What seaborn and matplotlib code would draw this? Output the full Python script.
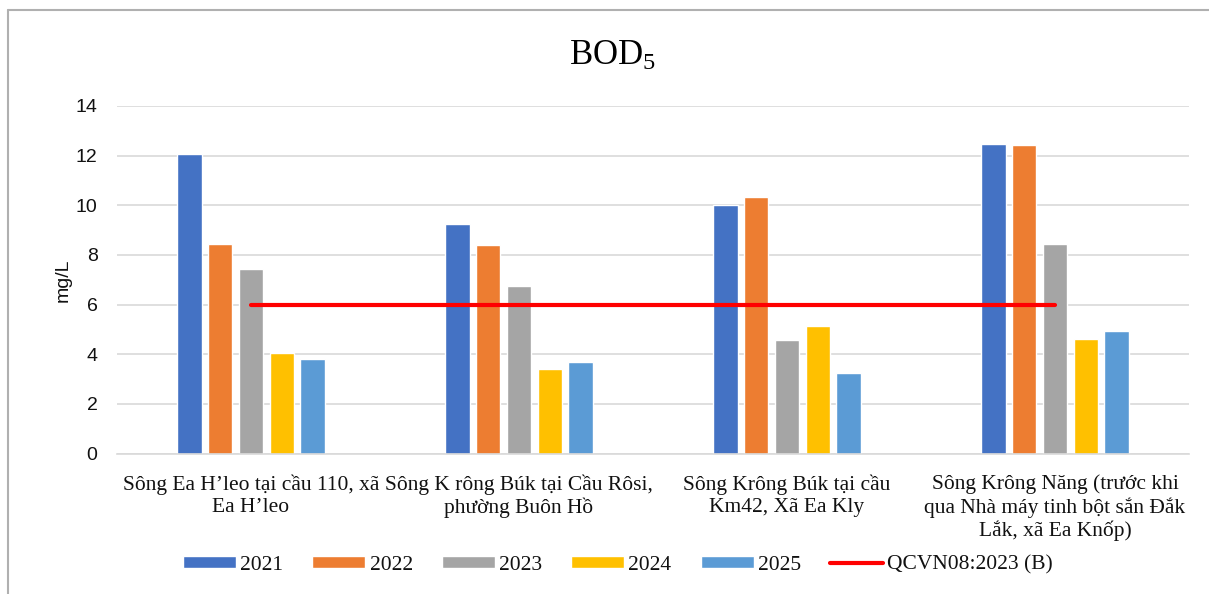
import matplotlib
matplotlib.use("Agg")
import matplotlib.pyplot as plt
from matplotlib.lines import Line2D
import seaborn as sns
import pandas as pd
import numpy as np

# Monitoring stations (category axis)
stations = [
    "Sông Ea H’leo tại cầu 110, xã\nEa H’leo",
    "Sông K rông Búk tại Cầu Rôsi,\nphường Buôn Hồ",
    "Sông Krông Búk tại cầu\nKm42, Xã Ea Kly",
    "Sông Krông Năng (trước khi\nqua Nhà máy tinh bột sắn Đắk\nLắk, xã Ea Knốp)",
]
years = ["2021", "2022", "2023", "2024", "2025"]

# BOD5 (mg/L) per station, one list per year
bod_2021 = [12.06, 9.23, 10.03, 12.45]
bod_2022 = [8.46, 8.39, 10.33, 12.43]
bod_2023 = [7.45, 6.73, 4.56, 8.46]
bod_2024 = [4.05, 3.39, 5.14, 4.63]
bod_2025 = [3.80, 3.69, 3.25, 4.93]

# National standard limit QCVN08:2023 (B)
qcvn_label = "QCVN08:2023 (B)"
qcvn = [6, 6, 6, 6]

yticks = [0, 2, 4, 6, 8, 10, 12, 14]

colors = ["#4472C4", "#ED7D31", "#A5A5A5", "#FFC000", "#5B9BD5"]

series = [bod_2021, bod_2022, bod_2023, bod_2024, bod_2025]
df = pd.DataFrame(
    [(st, yr, v) for yr, vals in zip(years, series) for st, v in zip(stations, vals)],
    columns=["station", "year", "bod"],
)

sns.set_theme(style="white")
plt.rcParams["font.family"] = ["Liberation Serif", "DejaVu Serif"]
plt.rcParams["mathtext.fontset"] = "custom"
plt.rcParams["mathtext.rm"] = "Liberation Serif"

W, H = 1209, 594
fig = plt.figure(figsize=(W / 100, H / 100), dpi=100)
ax = fig.add_axes([117 / W, 1 - 453.5 / H, (1189 - 117) / W, (453.5 - 106) / H])

sns.barplot(
    data=df, x="station", y="bod", hue="year", order=stations, hue_order=years,
    palette=colors, width=0.573, gap=0.21, saturation=1, ax=ax, legend=True,
)
handles, labels = ax.get_legend_handles_labels()
ax.get_legend().remove()

# Limit line joining the category centres
ax.plot(range(len(stations)), qcvn, color="#FF0000", lw=3.0,
        solid_capstyle="round", zorder=4)

ax.set_xlim(-0.5, len(stations) - 0.5)
ax.set_ylim(0, 14)
ax.set_yticks(yticks)
ax.set_yticklabels([str(t) for t in yticks], fontfamily="Liberation Sans",
                   fontsize=14, color="#111111")
ax.tick_params(axis="y", length=0, pad=14)
ax.yaxis.grid(True, color="#D9D9D9", lw=1.2)
ax.set_axisbelow(True)

ax.set_xticks(range(len(stations)))
ax.set_xticklabels(stations, fontsize=15.5, color="#111111", linespacing=1.2)
ax.tick_params(axis="x", length=0, pad=15)
ax.set_xticks(np.arange(-0.5, len(stations)), minor=True)
ax.tick_params(axis="x", which="minor", length=5, color="#D9D9D9", width=1.2)

for s in ["top", "right", "left"]:
    ax.spines[s].set_visible(False)
ax.spines["bottom"].set_color("#D9D9D9")
ax.spines["bottom"].set_linewidth(1.2)

ax.set_xlabel("")
ax.set_ylabel("mg/L", fontfamily="Liberation Sans", fontsize=14, color="#111111",
              labelpad=3)

# Title with subscript
fig.text(612 / W, 1 - 65 / H, r"$\mathrm{BOD_5}$", ha="center", va="baseline",
         fontsize=25, color="black")

# Legend across the bottom
line_handle = Line2D([0], [0], color="#FF0000", lw=3.0, solid_capstyle="round")
fig.legend(
    handles + [line_handle], labels + [qcvn_label],
    loc="center", bbox_to_anchor=(618 / W, 1 - 565 / H), ncol=6, frameon=False,
    fontsize=15.5, handlelength=2.46, handleheight=0.5, handletextpad=0.2,
    columnspacing=1.35, labelcolor="#111111",
)

# Chart area border (top and left edges)
fig.add_artist(Line2D([8 / W, 1.0], [1 - 10 / H, 1 - 10 / H], color="#B0B0B0", lw=1.5,
                      transform=fig.transFigure))
fig.add_artist(Line2D([8 / W, 8 / W], [0.0, 1 - 10 / H], color="#B0B0B0", lw=1.5,
                      transform=fig.transFigure))

fig.savefig("out.png", dpi=100)
